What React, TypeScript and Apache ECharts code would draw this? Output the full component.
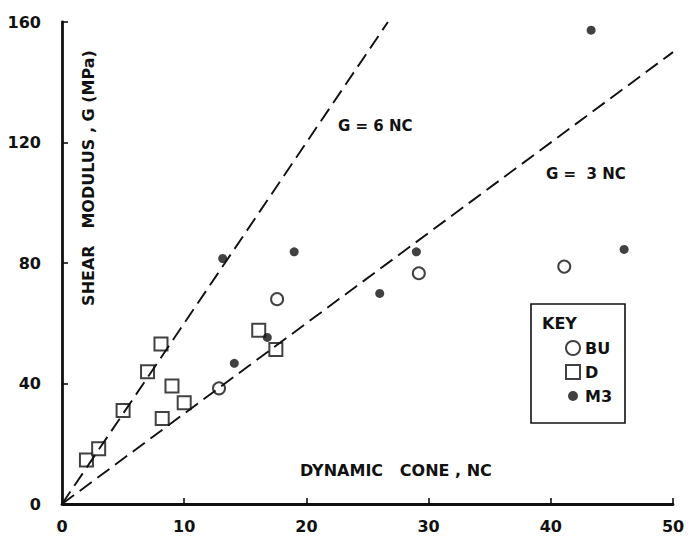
import React, { useEffect, useRef } from "react";
import * as echarts from "echarts";

const xTicks = [0, 10, 20, 30, 40, 50];
const yTicks = [0, 40, 80, 120, 160];

// BU (open circles)
const buData: [number, number][] = [
  [12.85, 38.4],
  [17.6, 68],
  [29.2, 76.6],
  [41.1, 78.8],
];
// D (open squares)
const dData: [number, number][] = [
  [2.0, 14.6],
  [3.0, 18.3],
  [5.0, 31],
  [7.0, 43.9],
  [8.1, 53.1],
  [8.2, 28.4],
  [9.0, 39.2],
  [10.0, 33.6],
  [16.1, 57.7],
  [17.5, 51.3],
];
// M3 (filled dots)
const m3Data: [number, number][] = [
  [13.15, 81.5],
  [14.1, 46.7],
  [16.8, 55.3],
  [19.0, 83.7],
  [26.0, 69.9],
  [29.0, 83.7],
  [43.3, 157.3],
  [46.0, 84.5],
];
// Reference lines G = 6 NC and G = 3 NC
const line6: [number, number][] = [
  [0, 0],
  [26.67, 160],
];
const line3: [number, number][] = [
  [0, 0],
  [50, 150],
];

const FONT = "DejaVu Sans";
const INK = "#111";

export default function App() {
  const ref = useRef<HTMLDivElement>(null);
  useEffect(() => {
    if (!ref.current) return;
    const chart = echarts.init(ref.current, undefined, { renderer: "svg" });
    const axisCommon = {
      type: "value" as const,
      axisLine: { show: true, lineStyle: { color: INK, width: 2.8 } },
      axisTick: { show: true, inside: true, length: 6, lineStyle: { color: INK, width: 1.6 } },
      splitLine: { show: false },
      axisLabel: { color: INK, fontSize: 16, fontFamily: FONT, fontWeight: "bold" as const },
    };
    const txt = (text: string, x: number, y: number, size = 15) => ({
      type: "text",
      x,
      y,
      style: { text, fill: INK, fontSize: size, fontFamily: FONT, fontWeight: "bold", verticalAlign: "middle" },
    });
    chart.setOption({
      animation: false,
      backgroundColor: "#fff",
      grid: { left: 62, right: 27, top: 22, bottom: 32, containLabel: false },
      xAxis: {
        ...axisCommon,
        min: xTicks[0],
        max: xTicks[xTicks.length - 1],
        interval: xTicks[1] - xTicks[0],
        axisLabel: { ...axisCommon.axisLabel, margin: 14 },
      },
      yAxis: {
        ...axisCommon,
        min: yTicks[0],
        max: yTicks[yTicks.length - 1],
        interval: yTicks[1] - yTicks[0],
        axisLabel: { ...axisCommon.axisLabel, margin: 21 },
      },
      legend: {
        orient: "vertical",
        left: 560,
        top: 335,
        itemWidth: 14,
        itemHeight: 14,
        itemGap: 8,
        data: [
          { name: "BU" },
          { name: "D" },
          { name: "M3", icon: "path://M0,0M14,14M12,7A5,5,0,1,1,2,7A5,5,0,1,1,12,7Z" },
        ],
        textStyle: { color: INK, fontSize: 16, fontFamily: FONT, fontWeight: "bold" },
      },
      graphic: [
        {
          type: "rect",
          shape: { x: 531, y: 304, width: 94, height: 119 },
          style: { fill: "none", stroke: INK, lineWidth: 1.6 },
        },
        txt("KEY", 542, 323, 16),
        txt("G = 6 NC", 338, 126),
        txt("G =  3 NC", 546, 174),
        txt("DYNAMIC   CONE , NC", 300, 470, 16),
        {
          type: "text",
          x: 88,
          y: 178,
          rotation: Math.PI / 2,
          style: {
            text: "SHEAR   MODULUS , G (MPa)",
            fill: INK,
            fontSize: 16,
            fontFamily: FONT,
            fontWeight: "bold",
            align: "center",
            verticalAlign: "middle",
          },
        },
      ],
      series: [
        {
          name: "G6",
          type: "line",
          data: line6,
          showSymbol: false,
          silent: true,
          lineStyle: { color: INK, width: 1.9, type: [15, 7] },
        },
        {
          name: "G3",
          type: "line",
          data: line3,
          showSymbol: false,
          silent: true,
          lineStyle: { color: INK, width: 1.9, type: [15, 7] },
        },
        {
          name: "BU",
          type: "scatter",
          data: buData,
          symbol: "emptyCircle",
          symbolSize: 12,
          itemStyle: { color: INK, borderWidth: 2 },
        },
        {
          name: "D",
          type: "scatter",
          data: dData,
          symbol: "emptyRect",
          symbolSize: 13,
          itemStyle: { color: INK, borderWidth: 2.2 },
        },
        {
          name: "M3",
          type: "scatter",
          data: m3Data,
          symbol: "circle",
          symbolSize: 9,
          itemStyle: { color: INK },
        },
      ],
    });
    return () => chart.dispose();
  }, []);
  return (
    <div
      ref={ref}
      style={{ position: "fixed", left: 0, top: 0, width: 700, height: 536, background: "#fff" }}
    />
  );
}
